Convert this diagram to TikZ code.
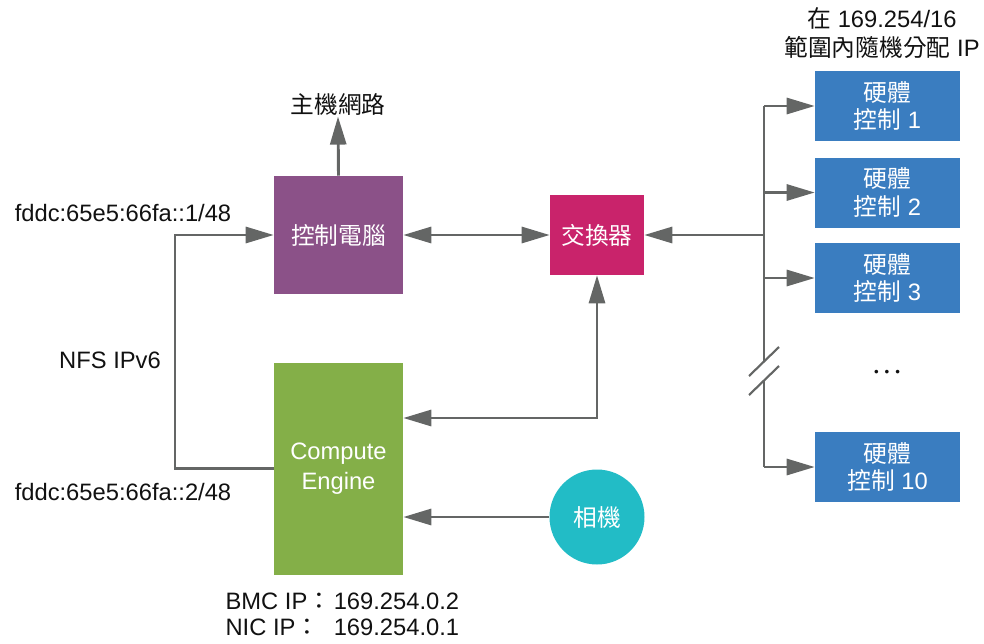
\documentclass[tikz,border=0pt]{standalone}
\usepackage{fontspec}
\setmainfont{Liberation Sans}
\newfontfamily\cjk{Noto Sans CJK TC}
\usetikzlibrary{arrows.meta}
\definecolor{pccol}{HTML}{8B5188}
\definecolor{swcol}{HTML}{C9236B}
\definecolor{cecol}{HTML}{84AF48}
\definecolor{camcol}{HTML}{22BCC6}
\definecolor{hwcol}{HTML}{3A7DC0}
\definecolor{linecol}{HTML}{646665}
\definecolor{txtcol}{HTML}{111111}
\newcommand\fsz{\fontsize{17.8}{20.5}\selectfont}
\tikzset{
  blk/.style={draw=none, inner sep=0pt, text=white, align=center, font=\fsz},
  hwbox/.style={blk, fill=hwcol, minimum width=108.75pt, minimum height=52.5pt},
  lbl/.style={inner sep=1pt, text=txtcol, font=\fsz, align=center},
  conn/.style={draw=linecol, line width=2.2pt},
  arr/.style={conn, -{Triangle[length=21pt,width=12pt]}},
  darr/.style={conn, {Triangle[length=21pt,width=12pt]}-{Triangle[length=21pt,width=12pt]}},
}
\begin{document}
\begin{tikzpicture}[x=0.75pt, y=-0.75pt]
\useasboundingbox (0,0) rectangle (984,643);
% boxes
\node[blk, fill=pccol, minimum width=96.75pt, minimum height=88.5pt] (pc) at (338.5,235) {\cjk 控制電腦};
\node[blk, fill=swcol, minimum width=70.5pt, minimum height=60pt] (sw) at (597,235) {\cjk 交換器};
\node[blk, fill=cecol, minimum width=96.75pt, minimum height=159pt] (ce) at (338.5,468.5) {Compute\\[2pt]Engine};
\node[blk, fill=camcol, circle, minimum size=71.25pt] (cam) at (597,517) {\cjk 相機};
\node[hwbox] (hw1) at (887.5,106) {{\cjk 硬體}\\{\cjk 控制} 1};
\node[hwbox] (hw2) at (887.5,192.5) {{\cjk 硬體}\\{\cjk 控制} 2};
\node[hwbox] (hw3) at (887.5,278) {{\cjk 硬體}\\{\cjk 控制} 3};
\node[hwbox] (hw10) at (887.5,467) {{\cjk 硬體}\\{\cjk 控制} 10};
% labels
\node[lbl] (net) at (338,104) {\cjk 主機網路};
\node[lbl] (top) at (882,33) {{\cjk 在} 169.254/16\\[1.5pt]{\cjk 範圍內隨機分配} IP};
\node[lbl] (ip1) at (123,213) {fddc:65e5:66fa::1/48};
\node[lbl] (nfs) at (110,360) {NFS IPv6};
\node[lbl] (ip2) at (123,492) {fddc:65e5:66fa::2/48};
\node[lbl, anchor=west] (bmc) at (224,617) {\begin{tabular}{@{}l@{\hspace{2pt}}l@{}}BMC IP{\cjk ：}&169.254.0.2\\[-0.5pt] NIC IP{\cjk ：}&169.254.0.1\end{tabular}};
\node[lbl] (dots) at (887,373) {\fontsize{10}{10}\selectfont •\hspace{4.5pt}•\hspace{4.5pt}•};
% coordinates
\coordinate (lp) at (175,235);
\coordinate (sc) at (597,418);
\coordinate (bmid) at (764,235);
\coordinate (brka) at (764,361.5);
\coordinate (brkb) at (764,380.5);
% connectors
\draw[arr] (pc.north) -- (net.south);
\draw[darr] (pc.east) -- (sw.west);
\draw[arr] (bmid) -- (sw.east);
\draw[darr] (sw.south) -- (sc) -- (ce.east |- sc);
\draw[arr] (cam.west) -- (ce.east |- cam.west);
\draw[arr] (ce.west) -| (lp) -- (pc.west);
% bus
\draw[conn] (hw1.west -| bmid) -- (brka);
\draw[conn] (brkb) -- (hw10.west -| bmid);
\draw[arr] (hw1.west -| bmid) -- (hw1.west);
\draw[arr] (hw2.west -| bmid) -- (hw2.west);
\draw[arr] (hw3.west -| bmid) -- (hw3.west);
\draw[arr] (hw10.west -| bmid) -- (hw10.west);
\draw[conn, line width=1.6pt] (749,376) -- (779,347);
\draw[conn, line width=1.6pt] (749,395) -- (779,366);
\end{tikzpicture}
\end{document}
